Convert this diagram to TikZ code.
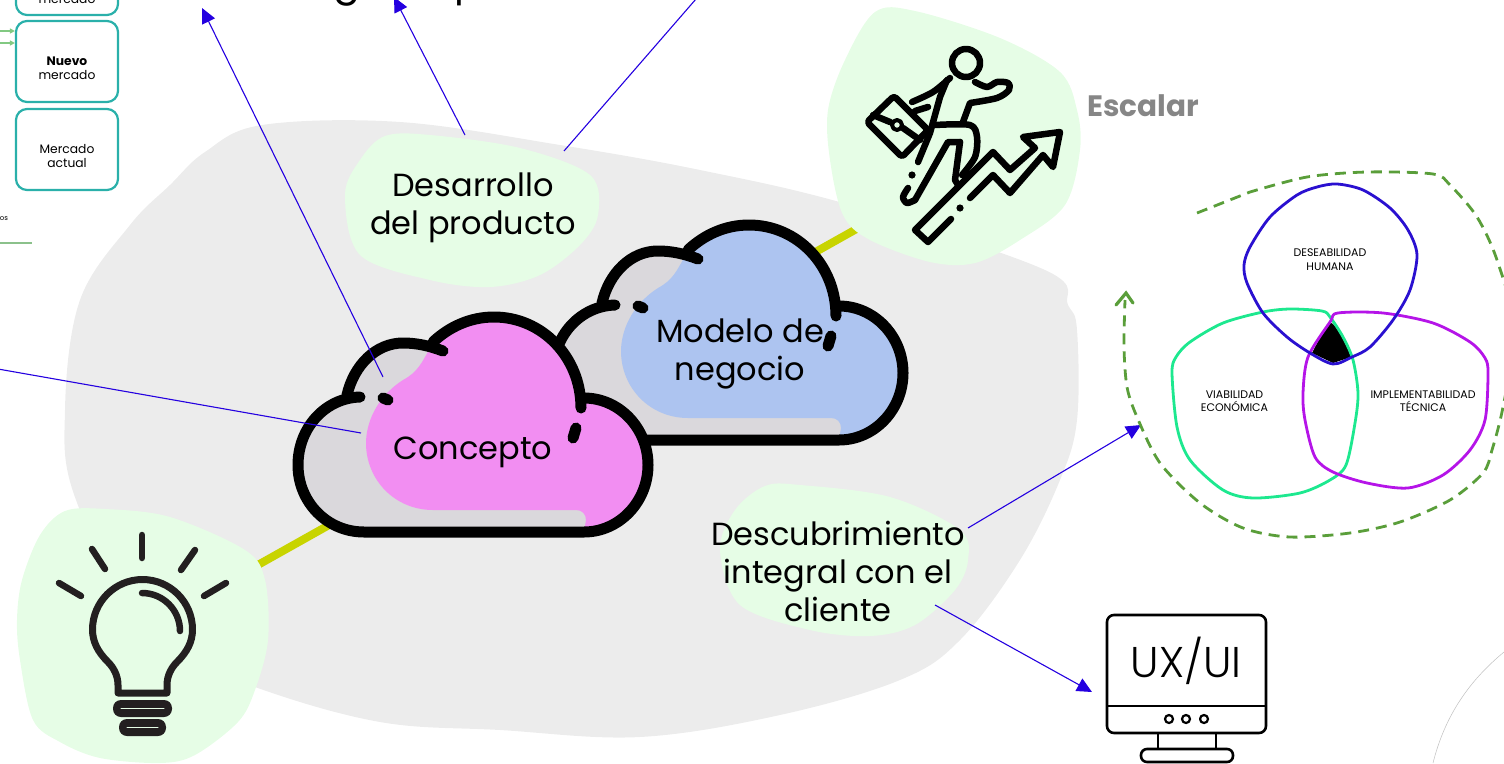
\documentclass[tikz,border=0pt]{standalone}
\usepackage{fontspec}
\setmainfont{Poppins}
\newfontfamily\uifont{Poppins Light}
\usetikzlibrary{arrows.meta}

\definecolor{blobgrey}{HTML}{ECECEC}
\definecolor{blobgreen}{HTML}{E6FDE6}
\definecolor{trackgreen}{HTML}{C8D400}
\definecolor{cloudgrey}{HTML}{DAD8DC}
\definecolor{cloudpink}{HTML}{F28EF2}
\definecolor{cloudblue}{HTML}{ADC4F0}
\definecolor{linkblue}{HTML}{2400E0}
\definecolor{boxteal}{HTML}{2AB0AA}
\definecolor{loopgreen}{HTML}{5A9E3A}
\definecolor{vennblue}{HTML}{2A10D0}
\definecolor{venngreen}{HTML}{1DE88F}
\definecolor{vennpurple}{HTML}{B514E8}
\definecolor{bulbdark}{HTML}{231F20}

\tikzset{
  marketbox/.style={draw=boxteal, line width=2.2pt, rounded corners=11pt, minimum width=102pt, minimum height=81pt, inner sep=0pt},
  markettext/.style={align=center, inner sep=0pt, font=\fontsize{12.3}{14}\selectfont},
  bigtext/.style={align=center, inner sep=0pt, font=\fontsize{32}{38}\selectfont},
  venntext/.style={align=center, inner sep=0pt, font=\fontsize{11}{13.5}\selectfont},
  link/.style={linkblue, line width=1.1pt},
  linkarrow/.style={link, -{Triangle[length=15pt, width=14pt]}},
  venn/.style={line width=2.8pt, line join=round},
  icon/.style={line width=6.5pt, line cap=round, line join=round},
  cloudline/.style={line width=11pt, line cap=round, line join=round},
  cloudpic/.pic={
    \fill[cloudgrey] (584,532) .. controls (619,532) and (648,502) .. (648,465) .. controls (648,428) and (619,398) .. (584,398)
      -- (581,405) .. controls (581,357) and (542,317) .. (494,317) .. controls (470,317) and (449,327) .. (433,342)
      -- (403,343) .. controls (376,343) and (354,365) .. (347,395)
      -- (360,397) .. controls (325,398) and (298,428) .. (298,465) .. controls (298,502) and (327,532) .. (364,532) -- cycle;
    \fill[#1] (433,342) .. controls (449,327) and (470,317) .. (494,317) .. controls (542,317) and (581,357) .. (581,405)
      -- (584,398) .. controls (619,398) and (648,428) .. (648,465) .. controls (648,502) and (619,532) .. (584,532)
      -- (586,520) .. controls (586,514) and (582,510) .. (576,510) -- (433,510) .. controls (395,510) and (366,480) .. (366,443)
      .. controls (366,425) and (375,398) .. (403,380) .. controls (418,372) and (422,362) .. (429,350) -- cycle;
    \draw[cloudline] (581,408) .. controls (581,357) and (542,317) .. (494,317) .. controls (470,317) and (449,327) .. (433,342);
    \draw[cloudline] (443,351) .. controls (430,346) and (417,343) .. (403,343) .. controls (376,343) and (354,365) .. (347,395);
    \draw[cloudline] (584,398) .. controls (619,398) and (648,428) .. (648,465) .. controls (648,502) and (619,532) .. (584,532) -- (364,532)
      .. controls (327,532) and (298,502) .. (298,465) .. controls (298,428) and (325,398) .. (360,397);
    \draw[cloudline] (383,398) -- (388,400);
    \draw[cloudline] (576,428) -- (573,438);
  }
}

\begin{document}
\begin{tikzpicture}[x=1pt, y=-1pt]
\useasboundingbox (0,0) rectangle (1504,763);
\clip (0,0) rectangle (1504,763);

\fill[blobgrey] plot[smooth cycle, tension=.6] coordinates {(205,152)(262,125)(400,122)(560,145)(700,170)(850,205)(1045,270)(1068,305)(1077,330)(1077,420)(1060,480)(1020,560)(960,640)(900,680)(780,715)(640,737)(500,730)(380,722)(255,687)(150,640)(76,500)(65,410)(80,300)(130,225)(170,185)};

\coordinate (trackstart) at (142,630);
\coordinate (trackend) at (958,172);
\draw[trackgreen, line width=8pt] (trackstart) -- (trackend);

\fill[blobgreen] plot[smooth cycle, tension=.55] coordinates {(65,511)(105,509)(170,517)(245,550)(265,580)(268,640)(255,690)(238,722)(195,755)(160,763)(100,758)(60,742)(33,720)(20,660)(17,620)(22,580)(40,535)};
\fill[blobgreen] plot[smooth cycle, tension=.55] coordinates {(875,12)(915,11)(1000,38)(1060,72)(1077,110)(1080,150)(1065,205)(1020,240)(975,263)(930,262)(870,240)(843,215)(830,160)(828,110)(845,60)};
\fill[blobgreen] plot[smooth cycle, tension=.55] coordinates {(385,136)(430,135)(520,148)(590,175)(598,215)(580,245)(540,275)(490,287)(430,280)(360,255)(345,195)(360,160)};
\fill[blobgreen] plot[smooth cycle, tension=.55] coordinates {(765,486)(800,485)(890,497)(960,530)(968,560)(955,590)(915,625)(870,636)(810,630)(740,605)(720,550)(735,510)};

% clouds
\pic at (255,-92) {cloudpic=cloudblue};
\pic at (0,0) {cloudpic=cloudpink};

\node[bigtext] (desarrollo) at (473,208) {Desarrollo\\del producto};
\node[bigtext] (concepto) at (473,452) {Concepto};
\node[bigtext] (modelo) at (740,354) {Modelo de\\negocio};
\node[bigtext] (descubrimiento) at (838,571.5) {Descubrimiento\\integral con el\\cliente};
\node[inner sep=0pt, text=gray!95, font=\fontsize{29.5}{30}\selectfont\bfseries] (escalar) at (1143,106) {Escalar};

% top edge
\node[anchor=base, font=\fontsize{40}{40}\selectfont] (topg) at (347,-5) {g};
\node[anchor=base, font=\fontsize{40}{40}\selectfont] (topp) at (468,-5) {p};

% market boxes
\node[marketbox, minimum height=80pt] (boxtop) at (67,-25) {};
\node[markettext] (boxtoptext) at (67,-1) {mercado};
\node[marketbox] (boxnuevo) at (67,61.5) {};
\node[marketbox] (boxactual) at (67,149.5) {};
\node[markettext] (nuevotext) at (67,68) {\textbf{Nuevo}\\mercado};
\node[markettext] (actualtext) at (67,156) {Mercado\\actual};
\coordinate (feedone) at (0,31);
\coordinate (feedtwo) at (0,43);
\draw[green!40!gray!70, line width=1.5pt, -{Triangle[length=5pt, width=5pt]}] (feedone) -- (feedone -| boxnuevo.west);
\draw[green!40!gray!70, line width=1.5pt, -{Triangle[length=5pt, width=5pt]}] (feedtwo) -- (feedtwo -| boxnuevo.west);
\node[font=\fontsize{7}{8}\selectfont, inner sep=0pt] (leftos) at (4,219) {os};
\coordinate (ruleleft) at (0,243);
\coordinate (ruleright) at (32,243);
\draw[green!30!gray!70, line width=1.2pt] (ruleleft) -- (ruleright);

% blue links
\coordinate (linkA) at (383,377);
\coordinate (linkAend) at (202,8);
\coordinate (linkB) at (361,433);
\coordinate (linkBend) at (-2,369);
\coordinate (linkC) at (465,135);
\coordinate (linkCend) at (394,-3);
\coordinate (linkD) at (564,151);
\coordinate (linkDend) at (696,-1);
\coordinate (linkE) at (968,528);
\coordinate (linkEend) at (1141,425);
\coordinate (linkF) at (935,605);
\coordinate (linkFend) at (1092,692);
\draw[linkarrow] (linkA) -- (linkAend);
\draw[link] (linkB) -- (linkBend);
\draw[linkarrow] (linkC) -- (linkCend);
\draw[link] (linkD) -- (linkDend);
\draw[linkarrow] (linkE) -- (linkEend);
\draw[linkarrow] (linkF) -- (linkFend);

% venn
\fill[black] plot[smooth] coordinates {(1312,353)(1320,338)(1331,323)(1343,339)(1351,357)} -- (1333,363) -- cycle;
\draw[venn, venngreen] plot[smooth cycle] coordinates {(1322,311)(1330,317)(1343,337)(1353,360)(1358,393)(1355,423)(1346,465)(1330,480)(1300,493)(1253,498)(1223,490)(1190,460)(1177,427)(1172,373)(1176,357)(1190,342)(1223,323)(1263,312)(1290,309)};
\draw[venn, vennpurple] plot[smooth cycle] coordinates {(1338,313)(1383,313)(1433,323)(1470,342)(1485,358)(1488,373)(1485,420)(1470,450)(1443,475)(1408,488)(1367,483)(1333,472)(1315,457)(1305,420)(1303,393)(1308,357)(1330,322)};
\draw[venn, vennblue] plot[smooth cycle] coordinates {(1337,184)(1363,190)(1390,208)(1408,230)(1417,255)(1410,290)(1393,320)(1370,347)(1352,357)(1333,364)(1310,353)(1287,337)(1263,313)(1247,283)(1244,265)(1250,247)(1270,217)(1297,195)(1317,187)};
\node[venntext] (humana) at (1330,259.5) {DESEABILIDAD\\HUMANA};
\node[venntext] (viabilidad) at (1234.5,401) {VIABILIDAD\\ECONÓMICA};
\node[venntext] (tecnica) at (1423,401) {IMPLEMENTABILIDAD\\TÉCNICA};

\coordinate (loopstart) at (1197,213);
\coordinate (loopend) at (1126,293);
\draw[loopgreen, line width=2.8pt, dash pattern=on 11pt off 7pt] (loopstart) -- plot[smooth] coordinates {(1250,192)(1307,177)(1367,172)(1433,174)(1450,185)(1477,217)(1497,260)(1515,330)(1503,407)(1492,450)(1483,473)(1450,500)(1400,522)(1350,533)(1290,537)(1243,528)(1200,503)(1160,463)(1137,417)(1127,387)(1124,347)(1125,300)};
\draw[loopgreen, line width=3.2pt, line cap=round] (1116,305) -- (loopend) -- (1133,303);

% bulb
\begin{scope}[bulbdark, line width=7pt, line cap=round, line join=round]
\draw[line width=6.5pt] (142,535) -- (142,558);
\draw[line width=6.5pt] (92,549) -- (105,569);
\draw[line width=6.5pt] (195,550) -- (181,570);
\draw[line width=6.5pt] (59,583) -- (81,596);
\draw[line width=6.5pt] (226,583) -- (204,596);
\draw (118,693) -- (118,685) .. controls (118,675) and (113,667) .. (108,662) .. controls (98,652) and (92.5,642) .. (92.5,629.5) .. controls (92.5,602) and (115,579.5) .. (142.5,579.5) .. controls (170,579.5) and (192.5,602) .. (192.5,629.5) .. controls (192.5,642) and (187,652) .. (177,662) .. controls (172,667) and (167,675) .. (167,685) -- (167,693) -- cycle;
\draw[line width=6.5pt] (142,593) .. controls (163,593) and (180,610) .. (180,631);
\fill[bulbdark, rounded corners=8pt] (113,700) rectangle (172,717);
\fill[bulbdark, rounded corners=8pt] (119,719) rectangle (166,736);
\draw[blobgreen, line width=1pt] (121,708.5) -- (164,708.5);
\draw[blobgreen, line width=1pt] (127,727.5) -- (158,727.5);
\end{scope}

% escalar figure
\begin{scope}[icon]
\draw (966,63) circle[radius=14];
\draw plot[smooth] coordinates {(975,82)(987,87)(997,82)(1008,83)(1009,90)(997,98)(970,103)} -- (963,122);
\draw (947,80) -- (940,97) -- (930,133) -- (918,162);
\draw plot[smooth] coordinates {(950,78)(933,92)(912,102)};
\draw (928,107) -- (915,111);
\draw plot[smooth] coordinates {(935,125)(970,125)(977,137)(975,157)(962,175)};
\draw (960,142) -- (948,142) -- (915,200);
\draw plot[smooth] coordinates {(915,200)(907,203)(903,197)(908,188)};
\draw (960,142) -- (955,180) -- (958,185);
\draw[rounded corners=3pt] (894,96) -- (867,122) -- (902,157) -- (928,130) -- cycle;
\draw (873,115) -- (890,122);
\draw (903,128) -- (920,140);
\draw[line width=4pt] (897,125) circle[radius=5];
\fill (912,175) circle[radius=3.6];
\fill (960,208) circle[radius=3.6];
\draw (951,219) -- (928,242) -- (915,230) -- (993,152) -- (1010,170) -- (1035,148) -- (1023,137) -- (1060,132) -- (1053,167) -- (1043,155) -- (1010,193) -- (993,175) -- (970,198);
\end{scope}

% monitor
\begin{scope}[line width=2.6pt, line join=round]
\draw[rounded corners=7pt] (1107,615) rectangle (1266,733);
\draw (1107,706) -- (1266,706);
\draw[line width=2.2pt] (1169,719) circle[radius=4];
\draw[line width=2.2pt] (1186,719) circle[radius=4];
\draw[line width=2.2pt] (1204,719) circle[radius=4];
\draw (1158,733) -- (1158,749);
\draw (1216,733) -- (1216,749);
\draw[rounded corners=6pt] (1141,749) rectangle (1233,762);
\end{scope}
\node[inner sep=0pt, font=\uifont\fontsize{43}{43}\selectfont] (uxui) at (1186,661) {UX/UI};

% arc corner
\coordinate (arcstart) at (1433,763);
\coordinate (arcend) at (1504,652);
\draw[gray!50, line width=.5pt] (arcstart) .. controls (1445,715) and (1470,680) .. (arcend);

\end{tikzpicture}
\end{document}
